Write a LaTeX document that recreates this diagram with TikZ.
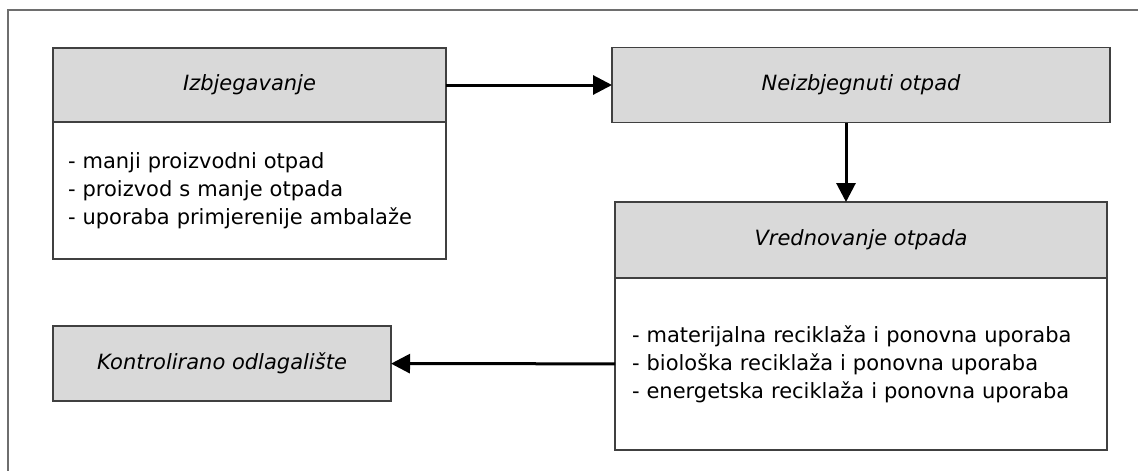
\documentclass[tikz,border=0pt]{standalone}
\usepackage{fontspec}
\setmainfont{DejaVu Sans}
\usetikzlibrary{positioning,arrows.meta}

\definecolor{headgray}{HTML}{D9D9D9}
\definecolor{boxline}{HTML}{404040}
\definecolor{framegray}{HTML}{6E6E6E}

\newcommand{\diagfont}{\fontsize{21}{28}\selectfont}

\tikzset{%
  every head/.style={
    rectangle,
    draw=boxline,
    fill=headgray,
    line width=1.5pt,
    inner sep=0pt,
    outer sep=0pt,
    font=\diagfont\itshape
  },
  every list/.style={
    rectangle,
    draw=boxline,
    fill=white,
    line width=1.5pt,
    inner ysep=0pt,
    outer sep=0pt,
    align=left,
    font=\diagfont
  },
  flow/.style={
    line width=3pt,
    -{Triangle[length=19pt,width=19pt]}
  },
}

\begin{document}
\begin{tikzpicture}[x=1pt, y=-1pt]

\clip (0,0) rectangle (1138,471);
\draw [framegray, line width=1.5pt] (8,480) |- (1150,10);

% gornji red
\node [every head, minimum width=393pt, minimum height=74pt] (izb) at (249.5,85) {Izbjegavanje};
\node [every list, below=0pt of izb, text width=363pt, inner xsep=15pt, minimum height=137pt] (izb-list)
  {- manji proizvodni otpad\\- proizvod s manje otpada\\- uporaba primjerenije ambalaže};

\node [every head, minimum width=498pt, minimum height=75pt] (neizb) at (861,85) {Neizbjegnuti otpad};

% vrednovanje
\node [every head, minimum width=492pt, minimum height=76pt] (vred) at (861,240) {Vrednovanje otpada};
\node [every list, below=0pt of vred, text width=458pt, inner xsep=17pt, minimum height=172pt] (vred-list)
  {- materijalna reciklaža i ponovna uporaba\\- biološka reciklaža i ponovna uporaba\\- energetska reciklaža i ponovna uporaba};

\node [every head, minimum width=338pt, minimum height=75pt] (kontr) at (222,363.5) {Kontrolirano odlagalište};

% strelice
\coordinate (down) at (846,0);
\draw [flow] (izb) -- (neizb);
\draw [flow] (neizb.south -| down) -- (vred.north -| down);
\draw [flow] (vred-list) -- (kontr);

\end{tikzpicture}
\end{document}
